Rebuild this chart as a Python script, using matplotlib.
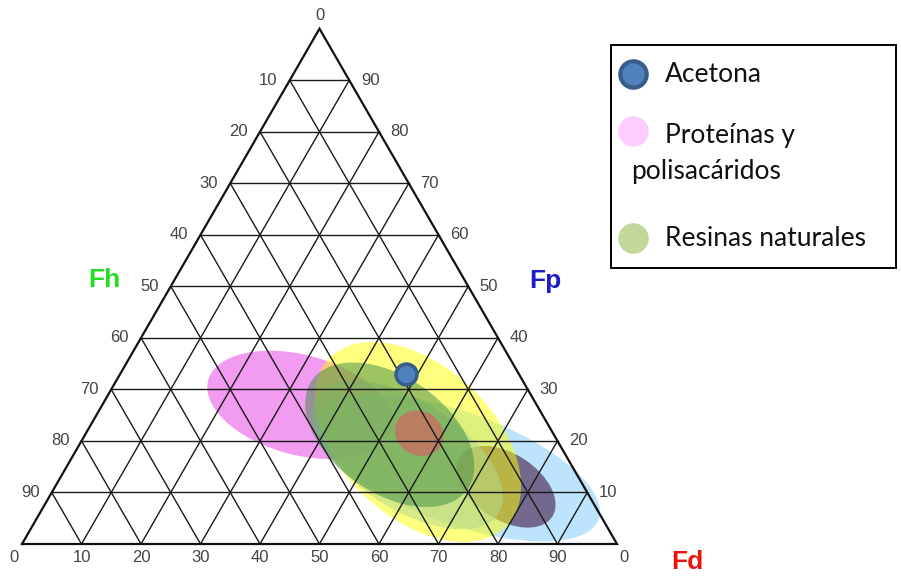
import numpy as np
import matplotlib
matplotlib.use("Agg")
import matplotlib.pyplot as plt
from matplotlib.patches import Ellipse, Rectangle

# -----------------------------------------------------------------------------
# Data: Teas chart (Fd, Fp, Fh in %), regions drawn as ellipses
# -----------------------------------------------------------------------------
grid_values = [10, 20, 30, 40, 50, 60, 70, 80, 90]
bottom_ticks = [0, 10, 20, 30, 40, 50, 60, 70, 80, 90, 100]
bottom_labels = ["0", "10", "20", "30", "40", "50", "60", "70", "80", "90", "0"]
left_labels = ["90", "80", "70", "60", "50", "40", "30", "20", "10"]   # Fh at fp = 10..90
right_labels = ["10", "20", "30", "40", "50", "60", "70", "80", "90"]  # Fp

acetona_fd = 48
acetona_fp = 33

# region: centre (fd, fp), width, height (in % units), angle (deg), drawn in this order
region_names = ["proteinas", "azul", "morado", "amarillo", "resinas", "verde", "rojo"]
region_fd = [33.2, 65.9, 75.8, 56.65, 56.2, 51.2, 56.0]
region_fp = [27.0, 14.75, 11.1, 19.8, 17.27, 21.2, 21.5]
region_w = [31.9, 50.4, 18.5, 41.0, 36.3, 31.9, 8.4]
region_h = [16.8, 18.8, 11.1, 25.5, 18.2, 19.5, 7.4]
region_angle = [-15, -20, -33, -43, -33, -35, -30]
region_color = ["#ee82ee", "#87cefa", "#4b2850", "#ffff00", "#b5d98a", "#3f8a45", "#f04860"]
region_alpha = [0.8, 0.55, 0.65, 0.5, 0.55, 0.5, 0.5]

legend_labels = ["Acetona", "Proteínas y\npolisacáridos", "Resinas naturales"]


def tern(fd, fp):
    return fd + fp / 2.0, fp * np.sqrt(3) / 2.0


# -----------------------------------------------------------------------------
# Figure: one axes over the whole canvas, 5.95 px per % unit
# -----------------------------------------------------------------------------
fig = plt.figure(figsize=(9.01, 5.76), dpi=100)
ax = fig.add_axes([0, 0, 1, 1])
s = 5.95
ax.set_xlim(-22 / s, (901 - 22) / s)
ax.set_ylim(-(576 - 544) / s, 544 / s)
ax.axis("off")

# ellipses
for fd, fp, w, h, ang, col, a in zip(region_fd, region_fp, region_w, region_h,
                                     region_angle, region_color, region_alpha):
    ax.add_patch(Ellipse(tern(fd, fp), w, h, angle=ang, facecolor=col,
                         edgecolor="none", alpha=a, zorder=1))

# grid
for v in grid_values:
    for p0, p1 in [((0, v), (100 - v, v)), ((v, 0), (v, 100 - v)), ((100 - v, 0), (0, 100 - v))]:
        x0, y0 = tern(*p0)
        x1, y1 = tern(*p1)
        ax.plot([x0, x1], [y0, y1], color="#1a1a1a", lw=1.0, zorder=3)

tx, ty = zip(tern(0, 0), tern(100, 0), tern(0, 100), tern(0, 0))
ax.plot(tx, ty, color="#111111", lw=1.6, zorder=4, solid_joinstyle="miter")

# tick labels
tick_kw = dict(fontsize=12, color="#444444", family="Liberation Sans",
               ha="center", va="center")
for t, lab in zip(bottom_ticks, bottom_labels):
    dx = -1.3 if t == 0 else (1.2 if t == 100 else 0)
    ax.text(t + dx, -2.2, lab, **tick_kw)
for v, lab in zip(grid_values, left_labels):
    x, y = tern(0, v)
    ax.text(x - 3.6, y, lab, **tick_kw)
for v, lab in zip(grid_values, right_labels):
    x, y = tern(100 - v, v)
    ax.text(x + 3.5, y, lab, **tick_kw)
x, y = tern(0, 100)
ax.text(x, y + 2.2, "0", **tick_kw)

# axis names
name_kw = dict(fontsize=19, fontweight="bold", family="Liberation Sans",
               ha="center", va="center")
ax.text(13.9, 44.4, "Fh", color="#22dd22", **name_kw)
ax.text(87.9, 44.2, "Fp", color="#1c1cc8", **name_kw)
ax.text(111.9, -3.0, "Fd", color="#ee1111", **name_kw)

# acetona point
ax.plot(*tern(acetona_fd, acetona_fp), marker="o", markersize=15,
        markerfacecolor="#4f81bd", markeredgecolor="#385d8a",
        markeredgewidth=2.6, zorder=6)

# -----------------------------------------------------------------------------
# Legend box (pixel coordinates)
# -----------------------------------------------------------------------------
lg = fig.add_axes([0, 0, 1, 1], facecolor="none")
lg.set_xlim(0, 901)
lg.set_ylim(576, 0)
lg.axis("off")
lg.add_patch(Rectangle((611, 45), 285, 223, facecolor="white",
                       edgecolor="black", lw=1.4))
lg.plot(633, 74, marker="o", markersize=19, markerfacecolor="#4f81bd",
        markeredgecolor="#385d8a", markeredgewidth=3)
lg.plot(633, 131, marker="o", markersize=22, markerfacecolor="#ffccff",
        markeredgecolor="none")
lg.plot(633, 238, marker="o", markersize=22, markerfacecolor="#c4d79b",
        markeredgecolor="none")
leg_kw = dict(fontsize=19, color="#111111", family="Lato", va="center")
lg.text(665, 75, legend_labels[0], **leg_kw)
first, second = legend_labels[1].split("\n")
lg.text(665, 136, first, **leg_kw)
lg.text(631, 172, second, **leg_kw)
lg.text(665, 238, legend_labels[2], **leg_kw)

fig.savefig("out.png", dpi=100)
